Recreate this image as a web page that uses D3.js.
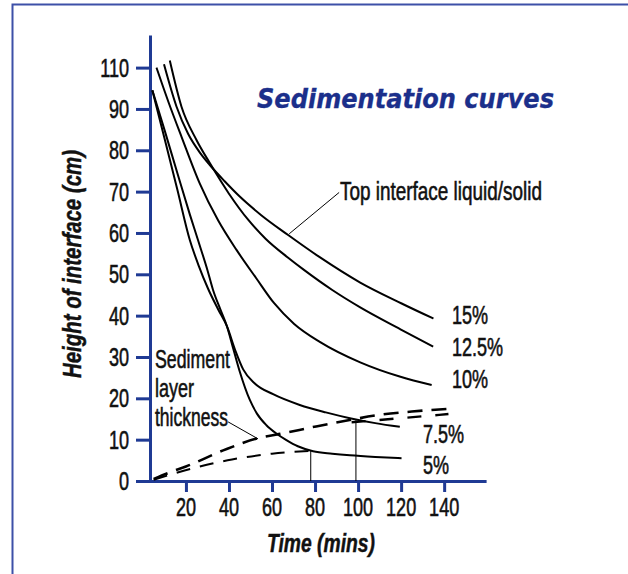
<!DOCTYPE html>
<html><head><meta charset="utf-8">
<script src="https://cdn.jsdelivr.net/npm/d3@7"></script>
<style>html,body{margin:0;padding:0;background:#fff;} svg{display:block}</style>
</head><body>
<svg id="c" width="628" height="574"></svg>
<script>
// ---------- data ----------
const xTickValues = [20, 40, 60, 80, 100, 120, 140];
const xTickLabels = ["20", "40", "60", "80", "100", "120", "140"];
const yTickValues = [0, 10, 20, 30, 40, 50, 60, 70, 80, 90, 100];
const yTickLabels = ["0", "10", "20", "30", "40", "50", "60", "70", "80", "90", "110"];

const concLabels = ["15%", "12.5%", "10%", "7.5%", "5%"];
const t15 = [9.8, 15.6, 21, 26.4, 31, 38, 45, 55, 67.5, 82, 101, 120, 135];
const h15 = [100.8, 90.6, 84, 79.5, 76.5, 72.5, 68.8, 64.3, 59.5, 54.2, 48, 43, 39.3];
const t125 = [12.5, 17.9, 24.9, 31.1, 40, 48.9, 57, 67.5, 75, 88, 101, 119.7, 134.9];
const h125 = [101.7, 90.6, 82.5, 76.9, 69.5, 63.2, 58.6, 54.0, 51.0, 46.2, 42, 36.7, 32.5];
const t10 = [6.3, 12, 18, 26.4, 35, 43.5, 52.6, 61, 70.3, 82.4, 101, 119.7, 134.2];
const h10 = [100, 91.5, 83.2, 72, 63, 55.9, 49.1, 43, 38, 33.6, 28.7, 25.2, 23.2];
const t75 = [4.4, 10, 16, 21.8, 26, 30.3, 35, 39, 43, 46.6, 52, 60.5, 72.9, 85, 96.2, 108, 119.4];
const h75 = [94.5, 83, 70.5, 58.3, 52, 46.5, 41.5, 37.5, 31.5, 27, 23.6, 21, 18.4, 16.6, 15.2, 14, 13.1];
const t5 = [4.4, 10, 16, 21.8, 25.6, 30, 32.6, 36, 39, 42, 45, 49.7, 53, 57.4, 62, 66.7, 72, 79.1, 88, 96.2, 108, 120.2];
const h5 = [94.5, 85, 74.5, 64.5, 58.3, 51, 46.2, 41.5, 37.5, 32, 26.5, 19.6, 16.3, 13.5, 11.5, 9.9, 8.4, 7.2, 6.6, 6.2, 5.8, 5.5];

const sedUpperT = [5, 12, 20, 37.3, 54.5, 63.8, 80.5, 93.6, 110, 125, 143];
const sedUpperH = [0.5, 2, 3.5, 7.4, 10.5, 11.4, 13.2, 14.5, 16, 16.8, 17.5];
const sedUpper2T = [97, 120, 142];
const sedUpper2H = [14.2, 15.2, 16.2];
const sedLowerT = [5, 22.8, 41.4, 60, 78];
const sedLowerH = [0.3, 3.0, 5.2, 6.6, 7.3];

const markerT = [78, 99];
const markerH = [7.3, 14.7];

const topPointer = [[91.2, 69.8], [68, 59.8]];
const sedPointer = [[39.6, 14.3], [53.5, 10.2]];

// ---------- layout ----------
const svg = d3.select("#c");
const AXIS = "#1f3a94", TITLE = "#1b2f8b", BORDER = "#3d50a8";
const COND = "'Liberation Sans',Arial,sans-serif";

const x = d3.scaleLinear().domain([3.3, 158.8]).range([150, 484.6]);
const y = d3.scaleLinear().domain([0, 107.5]).range([481, 36.6]);

function txt(parent, s, px, py, o = {}) {
  const sx = o.sx || 0.82, sy = o.sy || 1.15;
  const fill = o.fill || "#111";
  const t = parent.append("text")
    .attr("transform", `translate(${px},${py})${o.rot ? ` rotate(${o.rot})` : ""} scale(${sx},${sy})`)
    .attr("text-anchor", o.anchor || "start")
    .style("font-family", o.family || COND)
    .style("font-size", (o.size || 22) + "px")
    .style("font-weight", o.weight || "normal")
    .style("font-style", o.style || "normal")
    .attr("fill", fill)
    .attr("stroke", fill)
    .attr("stroke-width", o.sw === undefined ? 0.5 : o.sw)
    .text(s);
  if (o.len) t.attr("textLength", o.len / sx).attr("lengthAdjust", "spacingAndGlyphs");
  return t;
}

// frame
svg.append("path").attr("d", "M12.5,574V4.5H628").attr("fill", "none")
  .attr("stroke", BORDER).attr("stroke-width", 2);

// axes
const yAxis = d3.axisLeft(y).tickValues(yTickValues).tickFormat("").tickSize(14).tickSizeOuter(0);
const xAxis = d3.axisBottom(x).tickValues(xTickValues).tickFormat("").tickSize(11).tickSizeOuter(0);
const gy = svg.append("g").attr("transform", "translate(150,0)").call(yAxis);
const gx = svg.append("g").attr("transform", "translate(0,481)").call(xAxis);
[gy, gx].forEach(g => {
  g.selectAll("path, line").attr("stroke", AXIS).attr("stroke-width", 3);
  g.select(".domain").attr("stroke-linecap", "square");
});

// tick labels
const labels = svg.append("g");
yTickValues.forEach((v, i) => txt(labels, yTickLabels[i], 129, y(v) + 9, { anchor: "end" }));
xTickValues.forEach((v, i) => txt(labels, xTickLabels[i], x(v), 516, { anchor: "middle" }));

// axis titles
txt(labels, "Height of interface (cm)", 81, 264, { rot: -90, anchor: "middle", weight: "bold", style: "italic", len: 228, sw: 0.4 });
txt(labels, "Time (mins)", 321, 552, { anchor: "middle", weight: "bold", style: "italic", len: 108, sw: 0.4 });

// title
txt(labels, "Sedimentation curves", 257, 108, { family: "'DejaVu Sans',sans-serif", weight: "bold", style: "italic", size: 24, sx: 1, sy: 1.1, len: 297, fill: TITLE, sw: 0.3 });

// curves
const line = d3.line().x(d => x(d[0])).y(d => y(d[1])).curve(d3.curveMonotoneX);
const seriesT = [t15, t125, t10, t75, t5];
const seriesH = [h15, h125, h10, h75, h5];
const series = concLabels.map((c, i) => ({ label: c, pts: seriesT[i].map((t, j) => [t, seriesH[i][j]]) }));
const cg = svg.append("g");
series.forEach(s => cg.append("path").attr("d", line(s.pts)).attr("fill", "none")
  .attr("stroke", "#000").attr("stroke-width", 2));

// sediment dashed lines
const dashed = [
  { t: sedUpperT, h: sedUpperH, w: 2.6, dash: "15,9" },
  { t: sedUpper2T, h: sedUpper2H, w: 2.4, dash: "14,14" },
  { t: sedLowerT, h: sedLowerH, w: 2, dash: "14,10" }
];
dashed.forEach(d => cg.append("path").attr("d", line(d.t.map((t, j) => [t, d.h[j]])))
  .attr("fill", "none").attr("stroke", "#000").attr("stroke-width", d.w).attr("stroke-dasharray", d.dash));

// vertical markers
markerT.forEach((t, i) => cg.append("line").attr("x1", x(t)).attr("x2", x(t))
  .attr("y1", y(0)).attr("y2", y(markerH[i])).attr("stroke", "#000").attr("stroke-width", 1));

// pointers
[topPointer, sedPointer].forEach(p => cg.append("line")
  .attr("x1", x(p[0][0])).attr("y1", y(p[0][1])).attr("x2", x(p[1][0])).attr("y2", y(p[1][1]))
  .attr("stroke", "#000").attr("stroke-width", 1));

// annotations
txt(labels, "Top interface liquid/solid", 340, 200, { len: 202 });
txt(labels, "Sediment", 155, 368, { len: 75 });
txt(labels, "layer", 155, 397);
txt(labels, "thickness", 155, 426, { len: 73 });

// concentration labels
const concPos = [[452, 324], [452, 356], [452, 388], [423, 443], [423, 474]];
concLabels.forEach((c, i) => txt(labels, c, concPos[i][0], concPos[i][1]));
</script>
</body></html>
